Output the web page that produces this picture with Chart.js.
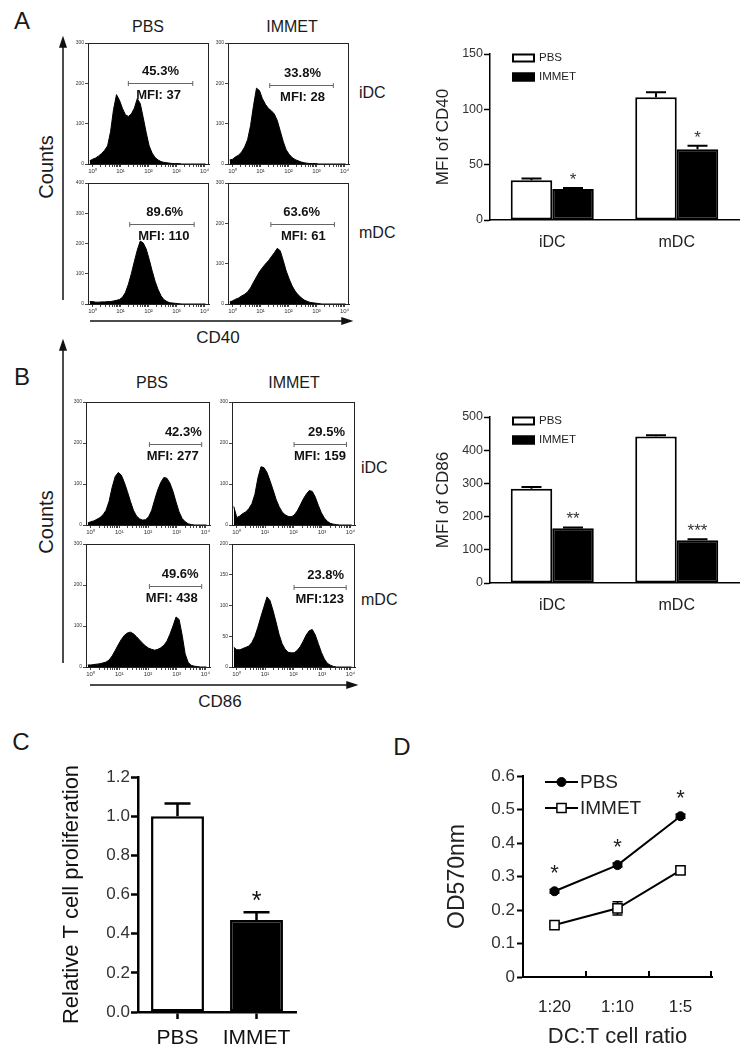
<!DOCTYPE html>
<html>
<head>
<meta charset="utf-8">
<script src="https://cdn.jsdelivr.net/npm/chart.js@4.4.0/dist/chart.umd.min.js"></script>
<style>
  body { margin: 0; background: #fff; }
  #fig { position: relative; width: 756px; height: 1058px; overflow: hidden;
         font-family: "Liberation Sans", Arial, sans-serif; color: #1a1a1a; }
  canvas { position: absolute; }
  .t { position: absolute; white-space: nowrap; line-height: 1; transform: translate(-50%, -50%); }
  .l { position: absolute; white-space: nowrap; line-height: 1; transform: translateY(-50%); }
  .rot { transform: translate(-50%, -50%) rotate(-90deg); }
  .big { font-size: 24px; }
</style>
</head>
<body>
<div id="fig">
  <div class="t big" style="left:22px;top:21px">A</div>
  <div class="t" style="left:148px;top:27px;font-size:16px">PBS</div>
  <div class="t" style="left:292px;top:27px;font-size:16px">IMMET</div>
  <div class="l" style="left:359px;top:93px;font-size:16px">iDC</div>
  <div class="l" style="left:359px;top:233px;font-size:16px">mDC</div>
  <div class="t rot" style="left:46px;top:167px;font-size:20px">Counts</div>
  <div class="t" style="left:218px;top:337px;font-size:17px">CD40</div>

  <div class="t big" style="left:22px;top:377px">B</div>
  <div class="t" style="left:152px;top:383px;font-size:16px">PBS</div>
  <div class="t" style="left:294px;top:383px;font-size:16px">IMMET</div>
  <div class="l" style="left:361px;top:468px;font-size:16px">iDC</div>
  <div class="l" style="left:361px;top:600px;font-size:16px">mDC</div>
  <div class="t rot" style="left:46px;top:522px;font-size:20px">Counts</div>
  <div class="t" style="left:220px;top:701px;font-size:17px">CD86</div>

  <div class="t big" style="left:21px;top:742px">C</div>
  <div class="t big" style="left:402px;top:747px">D</div>

  <svg width="756" height="1058" style="position:absolute;left:0;top:0">
    <g stroke="#111" stroke-width="1.5" fill="#111">
      <line x1="63" y1="300" x2="63" y2="46"/><polygon points="63,38 60,47 66,47"/>
      <line x1="90" y1="321" x2="343" y2="321"/><polygon points="351,321 342,318 342,324"/>
      <line x1="63" y1="663" x2="63" y2="349"/><polygon points="63,341 60,350 66,350"/>
      <line x1="90" y1="685" x2="348" y2="685"/><polygon points="356,685 347,682 347,688"/>
    </g>
  </svg>

  <canvas id="h40a"></canvas><canvas id="h40b"></canvas>
  <canvas id="h40c"></canvas><canvas id="h40d"></canvas>
  <canvas id="h86a"></canvas><canvas id="h86b"></canvas>
  <canvas id="h86c"></canvas><canvas id="h86d"></canvas>
  <canvas id="mfi40"></canvas>
  <canvas id="mfi86"></canvas>
  <canvas id="prolif"></canvas>
  <canvas id="od"></canvas>
</div>

<script>
// ---- histogram data (log10 fluorescence channel -> counts) ----
const channels = [-0.097, 0.009, 0.115, 0.221, 0.327, 0.433, 0.539, 0.645, 0.751, 0.857,
  0.963, 1.069, 1.175, 1.281, 1.387, 1.493, 1.599, 1.705, 1.811, 1.917,
  2.023, 2.129, 2.235, 2.341, 2.447, 2.553, 2.659, 2.765, 2.871, 2.977,
  3.083, 3.189, 3.295, 3.401, 3.507, 3.613, 3.719, 3.825, 3.931, 4.037];

const cd40PbsIdc = [8, 12, 15, 20, 26, 34, 45, 80, 135, 172, 158, 138, 122, 118, 124, 138, 162, 150, 115, 78,
  45, 27, 16, 10, 6, 4, 3, 2, 1, 1, 1, 0, 0, 0, 0, 0, 0, 0, 0, 0];
const cd40ImmetIdc = [10, 12, 18, 22, 30, 42, 60, 95, 145, 188, 182, 162, 148, 138, 132, 124, 108, 82, 56, 35,
  24, 16, 11, 8, 5, 3, 2, 1, 1, 1, 0, 0, 0, 0, 0, 0, 0, 0, 0, 0];
const cd40PbsMdc = [8, 8, 6, 6, 7, 7, 8, 8, 10, 12, 15, 22, 38, 65, 100, 140, 178, 208, 202, 182,
  148, 110, 75, 48, 27, 14, 8, 4, 3, 2, 1, 0, 0, 0, 0, 0, 0, 0, 0, 0];
const cd40ImmetMdc = [5, 8, 12, 15, 20, 24, 30, 40, 54, 67, 80, 90, 99, 107, 117, 127, 138, 132, 108, 82,
  62, 45, 32, 23, 16, 10, 7, 4, 3, 2, 1, 0, 0, 0, 0, 0, 0, 0, 0, 0];

const cd86PbsIdc = [5, 8, 10, 14, 18, 25, 36, 58, 92, 118, 128, 122, 104, 82, 58, 36, 22, 15, 12, 13,
  20, 36, 62, 86, 104, 116, 114, 102, 82, 56, 32, 16, 8, 3, 1, 0, 0, 0, 0, 0];
const cd86ImmetIdc = [45, 18, 22, 28, 32, 40, 52, 75, 115, 142, 140, 128, 108, 86, 63, 45, 32, 25, 21, 20,
  24, 34, 48, 63, 75, 84, 82, 68, 48, 30, 17, 9, 4, 2, 1, 0, 0, 0, 0, 0];
const cd86PbsMdc = [5, 5, 6, 7, 8, 10, 12, 17, 27, 40, 54, 67, 77, 83, 85, 81, 74, 66, 58, 51,
  46, 43, 41, 43, 47, 53, 63, 80, 100, 122, 116, 78, 32, 11, 4, 2, 1, 0, 0, 0];
const cd86ImmetMdc = [32, 28, 28, 30, 32, 34, 40, 50, 65, 82, 98, 114, 108, 92, 73, 53, 38, 29, 24, 23,
  23, 27, 33, 42, 52, 59, 61, 52, 38, 24, 13, 6, 3, 1, 0, 0, 0, 0, 0, 0];

const cd40HistMax = [300, 300, 400, 300];
const cd86HistMax = [300, 300, 300, 200];
const cd40Percent = ["45.3%", "33.8%", "89.6%", "63.6%"];
const cd40Mfi = ["MFI: 37", "MFI: 28", "MFI: 110", "MFI: 61"];
const cd86Percent = ["42.3%", "29.5%", "49.6%", "23.8%"];
const cd86Mfi = ["MFI: 277", "MFI: 159", "MFI: 438", "MFI:123"];
const cd40GateFrom = [1.28, 1.33, 1.33, 1.37];
const cd40GateTo = [3.58, 3.6, 3.63, 3.64];
const cd40GateLevel = [200, 195, 263, 198];
const cd86GateFrom = [2.05, 2.02, 2.05, 2.02];
const cd86GateTo = [3.87, 3.86, 3.87, 3.85];
const cd86GateLevel = [197, 197, 198, 130];

// ---- MFI bar charts ----
const dcTypes = ["iDC", "mDC"];
const cd40Pbs = [36, 111];
const cd40PbsErr = [1.5, 4.5];
const cd40Immet = [28, 64];
const cd40ImmetErr = [1, 3];
const cd40Stars = ["*", "*"];
const cd86Pbs = [284, 441];
const cd86PbsErr = [5, 4];
const cd86Immet = [165, 129];
const cd86ImmetErr = [2.5, 3];
const cd86Stars = ["**", "***"];

// ---- T cell proliferation ----
const groups = ["PBS", "IMMET"];
const prolif = [1.0, 0.47];
const prolifErr = [0.065, 0.04];
const prolifStars = ["", "*"];

// ---- OD570 ----
const ratios = ["1:20", "1:10", "1:5"];
const odPbs = [0.256, 0.334, 0.48];
const odPbsErr = [0.005, 0.006, 0.006];
const odImmet = [0.155, 0.205, 0.318];
const odImmetErr = [0.006, 0.02, 0.008];
const odStars = ["*", "*", "*"];

const FONT = '"Liberation Sans", Arial, sans-serif';
Chart.defaults.font.family = FONT;
Chart.defaults.color = "#222";
Chart.defaults.animation = false;
Chart.defaults.responsive = false;
Chart.defaults.plugins.legend.display = false;
Chart.defaults.plugins.tooltip.enabled = false;

// box around histogram plots
const framePlugin = {
  id: "frame",
  afterDraw(chart, args, o) {
    if (!o.color) return;
    const a = chart.chartArea, ctx = chart.ctx;
    ctx.save();
    ctx.strokeStyle = o.color;
    ctx.lineWidth = 1;
    ctx.strokeRect(a.left + 0.5, a.top + 0.5, a.right - a.left - 1, a.bottom - a.top);
    ctx.restore();
  },
};

// gate marker with percentage / MFI text
const gatePlugin = {
  id: "gate",
  afterDatasetsDraw(chart, args, o) {
    if (o.from === undefined) return;
    const { ctx, scales: { x, y } } = chart;
    const x1 = x.getPixelForValue(o.from), x2 = x.getPixelForValue(o.to);
    const gy = Math.round(y.getPixelForValue(o.level)) + 0.5;
    ctx.save();
    ctx.strokeStyle = "#666";
    ctx.lineWidth = 1;
    ctx.beginPath();
    ctx.moveTo(x1, gy); ctx.lineTo(x2, gy);
    ctx.moveTo(x1, gy - 2.5); ctx.lineTo(x1, gy + 2.5);
    ctx.moveTo(x2, gy - 2.5); ctx.lineTo(x2, gy + 2.5);
    ctx.stroke();
    ctx.fillStyle = "#111";
    ctx.font = "bold 13px " + FONT;
    ctx.textAlign = "center";
    ctx.textBaseline = "middle";
    ctx.fillText(o.pct, x.getPixelForValue(o.pctAt), gy - 12);
    ctx.fillText(o.mfi, x.getPixelForValue(o.mfiAt), gy + 12);
    ctx.restore();
  },
};

// error bars + significance stars
const errorPlugin = {
  id: "errorBars",
  beforeDatasetsDraw(chart, args, o) {
    if (!o.cap) return;
    const ctx = chart.ctx, ys = chart.scales.y;
    chart.data.datasets.forEach((ds, i) => {
      if (!ds.errors) return;
      chart.getDatasetMeta(i).data.forEach((el, j) => {
        const v = ds.data[j], e = ds.errors[j];
        const top = ys.getPixelForValue(v + e);
        const bot = o.both ? ys.getPixelForValue(v - e) : el.y;
        ctx.save();
        ctx.strokeStyle = "#000";
        ctx.lineWidth = o.width;
        ctx.beginPath();
        ctx.moveTo(el.x, bot); ctx.lineTo(el.x, top);
        ctx.moveTo(el.x - o.cap, top); ctx.lineTo(el.x + o.cap, top);
        if (o.both) { ctx.moveTo(el.x - o.cap, bot); ctx.lineTo(el.x + o.cap, bot); }
        ctx.stroke();
        ctx.restore();
      });
    });
  },
  afterDatasetsDraw(chart, args, o) {
    if (!o.cap) return;
    const ctx = chart.ctx, ys = chart.scales.y;
    chart.data.datasets.forEach((ds, i) => {
      if (!ds.stars) return;
      chart.getDatasetMeta(i).data.forEach((el, j) => {
        if (!ds.stars[j]) return;
        const base = o.abovePoint ? el.y : ys.getPixelForValue(ds.data[j] + ds.errors[j]);
        ctx.save();
        ctx.fillStyle = o.starColor;
        ctx.font = o.starFont;
        ctx.textAlign = "center";
        ctx.textBaseline = "alphabetic";
        ctx.fillText(ds.stars[j], el.x, base - o.starGap);
        ctx.restore();
      });
    });
  },
};

// legends drawn inside the plot area
const insetLegend = {
  id: "insetLegend",
  afterDraw(chart, args, o) {
    if (!o.kind) return;
    const ctx = chart.ctx, a = chart.chartArea;
    chart.data.datasets.forEach((ds, i) => {
      const y = a.top + o.dy + i * o.gap;
      const x = a.left + o.dx;
      ctx.save();
      if (o.kind === "box") {
        ctx.fillStyle = ds.backgroundColor;
        ctx.fillRect(x, y - 4.5, 23, 9);
        ctx.strokeStyle = "#000";
        ctx.lineWidth = 2;
        ctx.strokeRect(x + 1, y - 3.5, 21, 7);
        ctx.fillStyle = "#222";
        ctx.font = o.font;
        ctx.textBaseline = "middle";
        ctx.fillText(ds.label, x + 27, y);
      } else {
        ctx.strokeStyle = "#000";
        ctx.lineWidth = 2;
        ctx.beginPath(); ctx.moveTo(x, y); ctx.lineTo(x + 33, y); ctx.stroke();
        ctx.fillStyle = ds.pointBackgroundColor;
        ctx.lineWidth = ds.pointBorderWidth;
        Chart.helpers.drawPoint(ctx, { pointStyle: ds.pointStyle, radius: ds.pointRadius, rotation: 0, borderWidth: ds.pointBorderWidth }, x + 16.5, y);
        ctx.fillStyle = "#222";
        ctx.font = o.font;
        ctx.textBaseline = "middle";
        ctx.fillText(ds.label, x + 35, y + 1);
      }
      ctx.restore();
    });
  },
};

// inward tick marks between categories (panel D)
const innerTicks = {
  id: "innerTicks",
  afterDraw(chart, args, o) {
    if (!o.len) return;
    const ctx = chart.ctx, xs = chart.scales.x, a = chart.chartArea;
    const n = chart.data.labels.length;
    ctx.save();
    ctx.strokeStyle = "#000";
    ctx.lineWidth = 2;
    ctx.beginPath();
    for (let i = 0; i < n; i++) {
      const px = i < n - 1 ? (xs.getPixelForValue(i) + xs.getPixelForValue(i + 1)) / 2 : a.right - 1;
      ctx.moveTo(px, a.bottom); ctx.lineTo(px, a.bottom - o.len);
    }
    ctx.stroke();
    ctx.restore();
  },
};

Chart.register(framePlugin, gatePlugin, errorPlugin, insetLegend, innerTicks);

const SUP = ["\u2070", "\u00B9", "\u00B2", "\u00B3", "\u2074"];
const logTicks = [];
for (let d = 0; d < 4; d++) {
  for (let k = 1; k < 10; k++) logTicks.push(d + Math.log10(k));
}
logTicks.push(4);

function drawHistogram(id, box, counts, yMax, gate) {
  const cv = document.getElementById(id);
  const padL = 20, padT = 5, padR = 8, padB = 16;
  cv.width = box.w + padL + padR;
  cv.height = box.h + padT + padB;
  cv.style.left = box.x - padL + "px";
  cv.style.top = box.y - padT + "px";
  new Chart(cv, {
    type: "line",
    data: {
      datasets: [{
        data: channels.map((c, i) => ({ x: c, y: counts[i] })),
        fill: "origin",
        backgroundColor: "#000",
        borderColor: "#000",
        borderWidth: 1,
        pointRadius: 0,
        tension: 0,
      }],
    },
    options: {
      layout: { padding: { top: padT, right: padR, left: 0, bottom: 0 } },
      plugins: { frame: { color: "#222" }, gate: gate },
      scales: {
        x: {
          type: "linear", min: -0.16, max: 4.16,
          afterBuildTicks: (s) => { s.ticks = logTicks.map((v) => ({ value: v })); },
          afterFit: (s) => { s.height = padB; },
          ticks: {
            autoSkip: false, maxRotation: 0, padding: 1, color: "#333",
            font: { size: 6 },
            callback: (v) => (Number.isInteger(v) ? "10" + SUP[v] : ""),
          },
          grid: { drawOnChartArea: false, tickLength: 3, color: "#444" },
          border: { color: "#222" },
        },
        y: {
          min: 0, max: yMax,
          afterFit: (s) => { s.width = padL; },
          ticks: { stepSize: yMax === 200 ? 50 : 100, padding: 1, color: "#333", font: { size: 5 } },
          grid: { drawOnChartArea: false, tickLength: 3, color: "#444" },
          border: { color: "#222" },
        },
      },
    },
  });
}

const cd40Boxes = [
  { x: 88, y: 43, w: 121, h: 121 }, { x: 228, y: 43, w: 121, h: 121 },
  { x: 88, y: 183, w: 121, h: 121 }, { x: 228, y: 183, w: 121, h: 121 },
];
const cd86Boxes = [
  { x: 86, y: 402, w: 124, h: 123 }, { x: 232, y: 402, w: 123, h: 123 },
  { x: 86, y: 544, w: 124, h: 123 }, { x: 232, y: 544, w: 123, h: 123 },
];
const cd40TextAt = [[2.43, 2.36], [2.5, 2.5], [2.58, 2.55], [2.47, 2.53]];
const cd86TextAt = [[3.23, 2.86], [3.16, 2.93], [3.12, 2.83], [3.13, 2.92]];

const cd40Hists = [cd40PbsIdc, cd40ImmetIdc, cd40PbsMdc, cd40ImmetMdc];
const cd86Hists = [cd86PbsIdc, cd86ImmetIdc, cd86PbsMdc, cd86ImmetMdc];
["h40a", "h40b", "h40c", "h40d"].forEach((id, i) => {
  drawHistogram(id, cd40Boxes[i], cd40Hists[i], cd40HistMax[i], {
    from: cd40GateFrom[i], to: cd40GateTo[i], level: cd40GateLevel[i],
    pct: cd40Percent[i], mfi: cd40Mfi[i], pctAt: cd40TextAt[i][0], mfiAt: cd40TextAt[i][1],
  });
});
["h86a", "h86b", "h86c", "h86d"].forEach((id, i) => {
  drawHistogram(id, cd86Boxes[i], cd86Hists[i], cd86HistMax[i], {
    from: cd86GateFrom[i], to: cd86GateTo[i], level: cd86GateLevel[i],
    pct: cd86Percent[i], mfi: cd86Mfi[i], pctAt: cd86TextAt[i][0], mfiAt: cd86TextAt[i][1],
  });
});

// MFI bar charts
function drawMfi(id, top, pbs, pbsErr, immet, immetErr, stars, yMax, yStep, title) {
  const cv = document.getElementById(id);
  cv.width = 330;
  cv.height = 215;
  cv.style.left = "420px";
  cv.style.top = top + "px";
  new Chart(cv, {
    type: "bar",
    data: {
      labels: dcTypes,
      datasets: [
        { label: "PBS", data: pbs, errors: pbsErr, backgroundColor: "#fff", borderColor: "#000",
          borderWidth: 2, borderSkipped: false },
        { label: "IMMET", data: immet, errors: immetErr, stars: stars, backgroundColor: "#000",
          borderColor: "#000", borderWidth: 2, borderSkipped: false },
      ],
    },
    options: {
      categoryPercentage: 0.667,
      barPercentage: 1,
      layout: { padding: { top: 14, right: 11, left: 0, bottom: 0 } },
      plugins: {
        errorBars: { cap: 10, width: 2, starFont: "17px " + FONT, starColor: "#333", starGap: 3 },
        insetLegend: { kind: "box", dx: 22, dy: 4, gap: 19, font: "11.5px " + FONT },
      },
      scales: {
        x: {
          afterFit: (s) => { s.height = 35; },
          grid: { display: false },
          border: { color: "#000", width: 1.5 },
          ticks: { padding: 5, color: "#222", font: { size: 16 } },
        },
        y: {
          min: 0, max: yMax,
          afterFit: (s) => { s.width = 70; },
          ticks: { stepSize: yStep, padding: 1, color: "#333", font: { size: 12.5 } },
          grid: { drawOnChartArea: false, tickLength: 6, tickWidth: 1.5, tickColor: "#000" },
          border: { color: "#000", width: 1.5 },
          title: { display: true, text: title, color: "#222", font: { size: 17 }, padding: { top: 13, bottom: 0 } },
        },
      },
    },
  });
}
drawMfi("mfi40", 40, cd40Pbs, cd40PbsErr, cd40Immet, cd40ImmetErr, cd40Stars, 150, 50, "MFI of CD40");
drawMfi("mfi86", 403, cd86Pbs, cd86PbsErr, cd86Immet, cd86ImmetErr, cd86Stars, 500, 100, "MFI of CD86");

// panel C
(function () {
  const cv = document.getElementById("prolif");
  cv.width = 270;
  cv.height = 298;
  cv.style.left = "40px";
  cv.style.top = "760px";
  new Chart(cv, {
    type: "bar",
    data: {
      labels: groups,
      datasets: [{
        data: prolif, errors: prolifErr, stars: prolifStars,
        backgroundColor: ["#fff", "#000"], borderColor: "#000", borderWidth: 2.5, borderSkipped: false,
      }],
    },
    options: {
      categoryPercentage: 0.67,
      barPercentage: 1,
      layout: { padding: { top: 17, right: 14, left: 0, bottom: 0 } },
      plugins: {
        errorBars: { cap: 13, width: 2.5, starFont: "25px " + FONT, starColor: "#111", starGap: 3 },
      },
      scales: {
        x: {
          afterFit: (s) => { s.height = 46; },
          grid: { display: true, drawOnChartArea: false, offset: false, tickLength: 7, tickWidth: 2.5, tickColor: "#000" },
          border: { color: "#000", width: 2.5 },
          ticks: { padding: 7, color: "#111", font: { size: 21 } },
        },
        y: {
          min: 0, max: 1.2,
          afterFit: (s) => { s.width = 98; },
          ticks: { stepSize: 0.2, padding: 1, color: "#333", font: { size: 17 }, callback: (v) => v.toFixed(1) },
          grid: { drawOnChartArea: false, tickLength: 7, tickWidth: 2.5, tickColor: "#000" },
          border: { color: "#000", width: 2.5 },
          title: { display: true, text: "Relative T cell proliferation", color: "#111", font: { size: 22 },
                   padding: { top: 19, bottom: 0 } },
        },
      },
    },
  });
})();

// panel D
(function () {
  const cv = document.getElementById("od");
  cv.width = 310;
  cv.height = 298;
  cv.style.left = "425px";
  cv.style.top = "760px";
  new Chart(cv, {
    type: "line",
    data: {
      labels: ratios,
      datasets: [
        { label: "PBS", data: odPbs, errors: odPbsErr, stars: odStars, borderColor: "#000", borderWidth: 2,
          pointStyle: "circle", pointRadius: 4.5, pointBackgroundColor: "#000", pointBorderColor: "#000",
          pointBorderWidth: 1 },
        { label: "IMMET", data: odImmet, errors: odImmetErr, borderColor: "#000", borderWidth: 2,
          pointStyle: "rect", pointRadius: 6.5, pointBackgroundColor: "#fff", pointBorderColor: "#000",
          pointBorderWidth: 1.5 },
      ],
    },
    options: {
      layout: { padding: { top: 16, right: 23, left: 0, bottom: 0 } },
      plugins: {
        errorBars: { cap: 5, width: 1.5, both: true, abovePoint: true, starFont: "22px " + FONT, starColor: "#222", starGap: 11 },
        insetLegend: { kind: "line", dx: 22, dy: 6, gap: 26, font: "19px " + FONT },
        innerTicks: { len: 6 },
      },
      scales: {
        x: {
          offset: true,
          afterFit: (s) => { s.height = 81; },
          grid: { display: false },
          border: { color: "#000", width: 2 },
          ticks: { padding: 12, color: "#222", font: { size: 17 } },
          title: { display: true, text: "DC:T cell ratio", color: "#222", font: { size: 22 }, padding: { top: 0, bottom: 8 } },
        },
        y: {
          min: 0, max: 0.6,
          afterFit: (s) => { s.width = 98; },
          ticks: { stepSize: 0.1, padding: 2, color: "#333", font: { size: 17 },
                   callback: (v) => (v === 0 ? "0" : v.toFixed(1)) },
          grid: { drawOnChartArea: false, tickLength: 6, tickWidth: 2, tickColor: "#000" },
          border: { color: "#000", width: 2 },
          title: { display: true, text: "OD570nm", color: "#222", font: { size: 23 }, padding: { top: 19, bottom: 0 } },
        },
      },
    },
  });
})();
</script>
</body>
</html>
